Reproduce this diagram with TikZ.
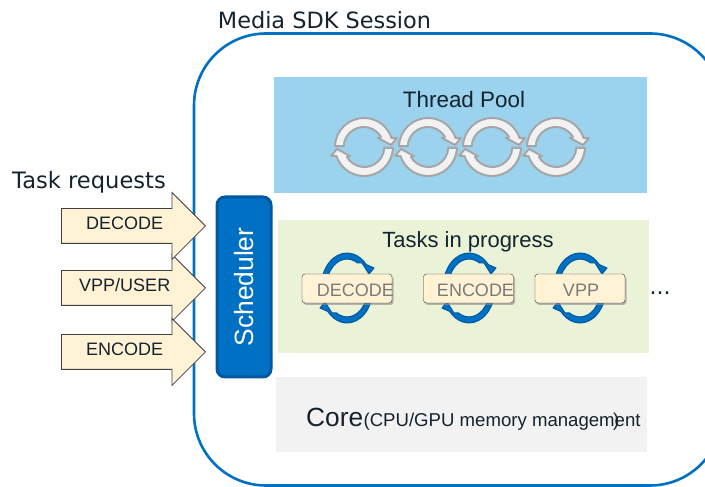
\documentclass[tikz,border=0pt]{standalone}
\usepackage{fontspec}
\setmainfont{Liberation Sans}
\newfontfamily\titlefont{DejaVu Sans}
\usetikzlibrary{shapes.arrows, shadows, positioning}
\definecolor{sessionblue}{HTML}{0070C5}
\definecolor{schededge}{HTML}{00589F}
\definecolor{poolblue}{HTML}{9BD3EE}
\definecolor{taskgreen}{HTML}{EAF3D8}
\definecolor{coregray}{HTML}{F2F2F2}
\definecolor{cream}{HTML}{FFF2D5}
\definecolor{inktext}{HTML}{14232E}
\tikzset{
  panel/.style={rectangle, anchor=south west, inner sep=0pt},
  reqarrow/.style={single arrow, draw=black!75, fill=cream, anchor=tip, line width=0.8pt, single arrow tip angle=90,
    single arrow head extend=16pt, minimum height=144pt, text height=10pt, text depth=2pt, inner ysep=11pt, inner xsep=0pt,
    font=\fontsize{18}{18}\selectfont, text=inktext},
  taskcard/.style={rectangle, draw=black!80, fill=cream, rounded corners=3pt, minimum width=90pt, minimum height=29pt, inner sep=0pt,
    drop shadow={shadow xshift=1.5pt, shadow yshift=-2pt, fill=black!45, opacity=0.6}},
  cardtext/.style={font=\fontsize{18}{18}\selectfont, text=black!52, inner sep=0pt},
  threadloop/.pic={
    \foreach \turn in {0,180} {
      \draw[rotate=\turn, draw=black!35, fill=coregray, line width=2pt, line join=round]
        (178:29) arc[start angle=178, end angle=18, radius=29] -- (33,9) -- (27,2) -- (14,9) -- (17,10)
        arc[start angle=30, end angle=178, radius=20] -- cycle;
    }
  },
  taskloop/.pic={
    \foreach \turn in {0,180} {
      \draw[rotate=\turn, draw=schededge, fill=sessionblue, line width=1pt, line join=round]
        (166:26 and 35) arc[start angle=166, end angle=42, x radius=26, y radius=35] -- (27,20) -- (22,14) -- (15,25)
        -- (10.5,25) arc[start angle=60, end angle=166, x radius=21, y radius=29] -- cycle;
    }
  },
}
\begin{document}
\begin{tikzpicture}[x=1pt, y=1pt]
\useasboundingbox (0,0) rectangle (705,487);
\begin{scope}
\clip (0,0) rectangle (705,487);
\draw[draw=sessionblue, line width=2.6pt, rounded corners=72pt] (194,1.5) rectangle (722,453.5);
\end{scope}
\node[font=\titlefont\fontsize{22.4}{24}\selectfont, text=inktext, inner sep=0pt] (session) at (324.5,467) {Media SDK Session};
% panels
\node[panel, fill=poolblue, minimum width=373pt, minimum height=116pt] (pool) at (274,294) {};
\node[panel, fill=taskgreen, minimum width=371pt, minimum height=133pt] (tasks) at (278,134) {};
\node[panel, fill=coregray, minimum width=371pt, minimum height=75pt] (core) at (276,35) {};
\node[font=\fontsize{22.4}{24}\selectfont, text=inktext, inner sep=0pt] (pooltitle) at (464,388) {Thread Pool};
\node[font=\fontsize{22}{24}\selectfont, text=inktext, inner sep=0pt] (taskstitle) at (468,245) {Tasks in progress};
\foreach \cx in {364,428,492,556} \pic at (\cx,340) {threadloop};
% tasks in progress
\foreach \cx in {347,469,580} \pic at (\cx,199) {taskloop};
\node[taskcard] (decodecard) at (347,198.5) {};
\node[taskcard] (encodecard) at (468.5,198.5) {};
\node[taskcard] (vppcard) at (580,198.5) {};
\node[cardtext] (decodetext) at (355.5,197) {DECODE};
\node[cardtext] (encodetext) at (475.5,197) {ENCODE};
\node[cardtext] (vpptext) at (581,197) {VPP};
\node[font=\titlefont\fontsize{22}{24}\selectfont, text=inktext, inner sep=0pt] (moredots) at (660,194) {...};
% core
\node[font=\fontsize{26.3}{28}\selectfont, text=inktext, inner sep=0pt, anchor=base west] (coretext) at (306,60) {Core};
\node[font=\fontsize{18.6}{20}\selectfont, text=inktext, inner sep=0pt, anchor=base west] (coresub) at (coretext.base east) {(CPU/GPU memory management};
\node[font=\fontsize{18.6}{20}\selectfont, text=inktext, inner sep=0pt, anchor=base west] (coreclose) at (613,60) {)};
% requests
\node[font=\titlefont\fontsize{22.6}{24}\selectfont, text=inktext, inner sep=0pt] (requests) at (89,305) {Task requests};
\node[reqarrow] (vppreq) at (206,199) {VPP/USER};
\node[reqarrow] (encodereq) at (206,135) {ENCODE};
\node[reqarrow] (decodereq) at (206,261) {DECODE};
\node[rectangle, draw=schededge, fill=sessionblue, line width=3pt, rounded corners=8pt, minimum width=54pt, minimum height=180pt, inner sep=0pt] (sched) at (244,200) {};
\node[rotate=90, font=\fontsize{26.4}{28}\selectfont, text=white, inner sep=0pt] at (sched.center) (schedtext) {Scheduler};
\end{tikzpicture}
\end{document}
